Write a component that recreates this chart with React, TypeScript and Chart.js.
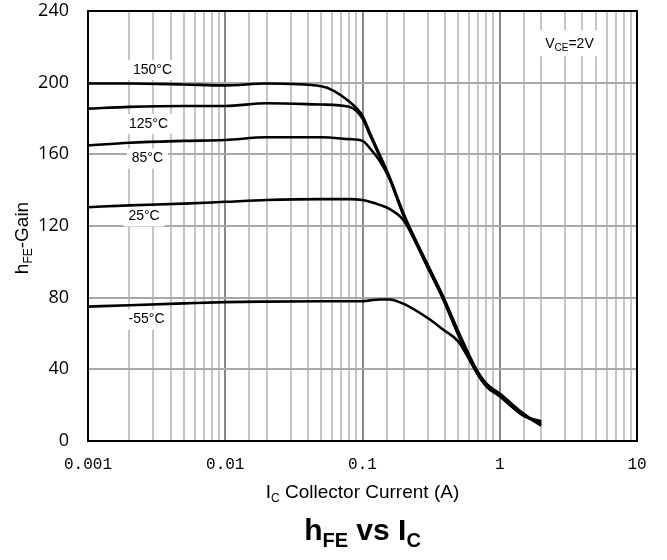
import React, { useEffect, useRef } from 'react';
import { Chart, registerables } from 'chart.js';

Chart.register(...registerables);

// Collector current (A)
const currents = [0.001, 0.002, 0.005, 0.01, 0.02, 0.05, 0.08, 0.1, 0.113, 0.133, 0.157, 0.2, 0.3, 0.39, 0.5, 0.67, 0.8, 1, 1.5, 2];
// hFE gain for each temperature
const gain150 = [199.5, 199.5, 199, 198.5, 199.5, 198, 189.5, 181.5, 172, 160, 147.5, 126.5, 98, 80, 61, 40.5, 32, 26.5, 15, 8.5];
const gain125 = [185.5, 186.5, 187, 187, 188.5, 187.8, 186.5, 180, 171, 159, 147, 126, 97.5, 79.5, 60.5, 40, 31.5, 26, 15, 9];
const gain85 = [165, 166.5, 167.5, 168, 169.5, 169.5, 168.5, 167.5, 163.5, 156.5, 146.5, 125.5, 97, 79, 60, 39.5, 31, 25.5, 14.5, 9.5];
const gain25 = [130.5, 131.5, 132.5, 133.5, 134.5, 135, 135, 134.5, 133.5, 131.8, 129.5, 123, 96.5, 78.5, 59, 39, 30.5, 25, 14, 10.5];
const gainM55 = [75, 75.8, 76.8, 77.5, 77.8, 78, 78, 78, 78.5, 79, 79, 76.5, 68.5, 62, 55.5, 39, 30.5, 25, 14, 11];

const seriesNames = ['150°C', '125°C', '85°C', '25°C', '-55°C'];
const seriesValues = [gain150, gain125, gain85, gain25, gainM55];
// where each curve label sits (current, gain)
const labelCurrents = [0.00295, 0.00276, 0.00271, 0.00256, 0.00267];
const labelGains = [207, 177, 157.6, 125.3, 67.8];

const yMin = 0;
const yMax = 240;
const yStep = 40;
const xMin = 0.001;
const xMax = 10;
const xDecadeLabels = ['0.001', '0.01', '0.1', '1', '10'];

const noteCurrent = 3.22;
const noteGain = 222;

type Part = { t: string; sub?: boolean };

function drawRich(ctx: CanvasRenderingContext2D, parts: Part[], x: number, y: number, size: number, bold: boolean, family: string, subScale = 0.65) {
  const font = (sub?: boolean) => `${bold ? 'bold ' : ''}${sub ? Math.round(size * subScale) : size}px ${family}`;
  const widths = parts.map(p => { ctx.font = font(p.sub); return ctx.measureText(p.t).width; });
  const total = widths.reduce((a, b) => a + b, 0);
  let cx = x - total / 2;
  ctx.textAlign = 'left';
  ctx.textBaseline = 'alphabetic';
  parts.forEach((p, i) => {
    ctx.font = font(p.sub);
    ctx.fillText(p.t, cx, p.sub ? y + size * 0.22 : y);
    cx += widths[i];
  });
  return total;
}

const isDecade = (v: number) => Math.abs(Math.log10(v) - Math.round(Math.log10(v))) < 1e-9;

const overlayPlugin = {
  id: 'overlay',
  beforeDatasetsDraw(chart: any) {
    const { ctx, scales } = chart;
    const x = scales.x, y = scales.y;
    ctx.save();
    ctx.font = '14px "Liberation Sans", Arial, sans-serif';
    ctx.textAlign = 'center';
    ctx.textBaseline = 'middle';
    seriesNames.forEach((n, i) => {
      const px = x.getPixelForValue(labelCurrents[i]);
      const py = y.getPixelForValue(labelGains[i]);
      const w = ctx.measureText(n).width + 10;
      ctx.fillStyle = '#ffffff';
      ctx.fillRect(px - w / 2, py - 10, w, 20);
      ctx.fillStyle = '#000000';
      ctx.fillText(n, px, py);
    });
    // VCE note
    const nx = x.getPixelForValue(noteCurrent);
    const ny = y.getPixelForValue(noteGain);
    ctx.fillStyle = '#ffffff';
    ctx.fillRect(nx - 32, ny - 13, 64, 26);
    ctx.fillStyle = '#000000';
    drawRich(ctx, [{ t: 'V' }, { t: 'CE', sub: true }, { t: '=2V' }], nx, ny + 5, 14, false, '"Liberation Sans", Arial, sans-serif', 0.72);
    ctx.restore();
  },
  afterDraw(chart: any) {
    const { ctx, chartArea: a } = chart;
    ctx.save();
    ctx.strokeStyle = '#000000';
    ctx.lineWidth = 2;
    ctx.strokeRect(a.left, a.top, a.right - a.left, a.bottom - a.top);
    ctx.fillStyle = '#000000';
    const fam = '"Liberation Sans", Arial, sans-serif';
    const cx = (a.left + a.right) / 2;
    // x axis title
    drawRich(ctx, [{ t: 'I' }, { t: 'C', sub: true }, { t: ' Collector Current (A)' }], cx, a.bottom + 57, 19, false, fam);
    // main title
    drawRich(ctx, [{ t: 'h' }, { t: 'FE', sub: true }, { t: ' vs I' }, { t: 'C', sub: true }], cx, a.bottom + 99, 30, true, fam);
    // y axis title
    ctx.translate(28, (a.top + a.bottom) / 2 + 12);
    ctx.rotate(-Math.PI / 2);
    drawRich(ctx, [{ t: 'h' }, { t: 'FE', sub: true }, { t: '-Gain' }], 0, 0, 19, false, fam);
    ctx.restore();
  },
};

export default function App() {
  const ref = useRef<HTMLCanvasElement | null>(null);
  useEffect(() => {
    if (!ref.current) return;
    const datasets = seriesValues.map((vals, i) => ({
      label: seriesNames[i],
      data: currents.map((c, j) => ({ x: c, y: vals[j] })),
      borderColor: '#000000',
      backgroundColor: '#000000',
      borderWidth: 2.6,
      pointRadius: 0,
      cubicInterpolationMode: 'monotone' as const,
      fill: false,
    }));
    const chart = new Chart(ref.current, {
      type: 'line',
      data: { datasets },
      options: {
        responsive: false,
        animation: false,
        devicePixelRatio: 1,
        layout: { padding: { left: 0, top: 11, right: 30, bottom: 0 } },
        plugins: { legend: { display: false }, tooltip: { enabled: false }, title: { display: false } },
        scales: {
          x: {
            type: 'logarithmic',
            min: xMin,
            max: xMax,
            border: { display: false },
            grid: {
              drawTicks: false,
              lineWidth: 2,
              color: (c: any) => (c.tick && isDecade(c.tick.value) ? '#888888' : '#c6c6c6'),
            },
            ticks: {
              autoSkip: false,
              maxRotation: 0,
              padding: 14,
              color: '#000000',
              font: { family: '"Liberation Mono", "DejaVu Sans Mono", monospace', size: 16 },
              callback: (v: any) => {
                const n = Number(v);
                if (!isDecade(n)) return '';
                const idx = Math.round(Math.log10(n) - Math.log10(xMin));
                return xDecadeLabels[idx] ?? '';
              },
            },
            afterFit: (s: any) => { s.height = 119; s.paddingLeft = 0; s.paddingRight = 0; s.paddingTop = 0; s.paddingBottom = 0; },
          },
          y: {
            min: yMin,
            max: yMax,
            border: { display: false },
            grid: { drawTicks: false, lineWidth: 2, color: '#a8a8a8' },
            ticks: {
              stepSize: yStep,
              padding: 19,
              color: '#000000',
              font: { family: '"Open Sans", "Liberation Sans", sans-serif', size: 18 },
            },
            afterFit: (s: any) => { s.width = 88; s.paddingTop = 0; s.paddingBottom = 0; s.paddingLeft = 0; s.paddingRight = 0; },
          },
        },
      },
      plugins: [overlayPlugin],
    });
    return () => chart.destroy();
  }, []);
  return (
    <div style={{ position: 'absolute', left: 0, top: 0, width: 667, height: 560, background: '#ffffff' }}>
      <canvas ref={ref} width={667} height={560} />
    </div>
  );
}
